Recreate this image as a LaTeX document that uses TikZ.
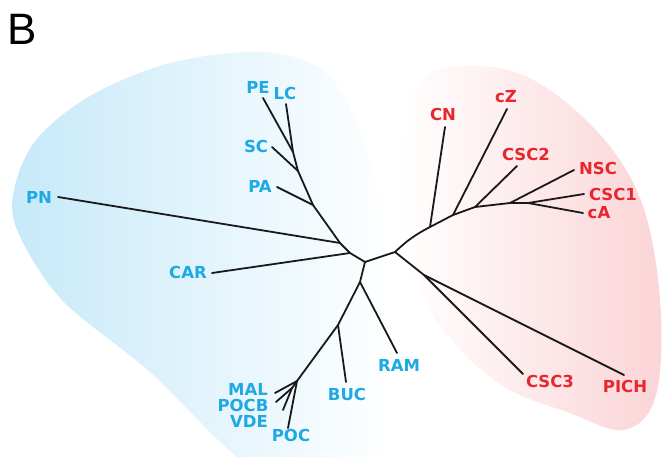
\documentclass[tikz,border=0pt]{standalone}
\usepackage{fontspec}
\setmainfont{DejaVu Sans}
\newfontfamily\letterfont{Liberation Sans}
\definecolor{blueblob}{RGB}{198,233,249}
\definecolor{redblob}{RGB}{251,212,214}
\definecolor{bluetxt}{RGB}{29,170,228}
\definecolor{redtxt}{RGB}{232,38,45}
\tikzset{
  branch/.style={line width=1.8pt, draw=black!90, line cap=round, line join=round},
  lab/.style={font=\fontsize{16.5}{16.5}\selectfont\bfseries, inner sep=0pt},
  bl/.style={lab, text=bluetxt},
  rl/.style={lab, text=redtxt}
}
\begin{document}
\begin{tikzpicture}[x=1pt,y=-1pt]
\useasboundingbox (0,0) rectangle (663,457);
% blobs
\shade[left color=blueblob, right color=white]
  plot[smooth cycle, tension=0.55] coordinates {(262,52) (325,72) (362,135) (385,230) (392,340) (372,490) (262,475) (150,372) (62,300) (18,232) (14,190) (36,140) (90,96) (170,63)};
\shade[left color=white, right color=redblob]
  plot[smooth cycle, tension=0.6] coordinates {(432,72) (515,72) (590,124) (640,198) (660,300) (656,395) (624,430) (567,412) (510,390) (463,353) (423,297) (402,220) (408,120)};
% letter
\node[anchor=base west, inner sep=0pt, font=\letterfont\fontsize{44}{44}\selectfont] (B) at (7,45) {B};
% coordinates
\coordinate (r) at (365,262);
\coordinate (j1) at (340,243);
\coordinate (j2) at (350,253);
\coordinate (jPA) at (313,205);
\coordinate (jSC) at (298,171);
\coordinate (jLC) at (293,152);
\coordinate (tPE) at (263,98);
\coordinate (tLC) at (286,104);
\coordinate (tSC) at (272,147);
\coordinate (tPA) at (277,187);
\coordinate (tPN) at (58,197);
\coordinate (tCAR) at (212,273);
\coordinate (jRAM) at (360,282);
\coordinate (tRAM) at (397,353);
\coordinate (jBUC) at (338,325);
\coordinate (tBUC) at (346,382);
\coordinate (jM) at (297,381);
\coordinate (jM2) at (292,388);
\coordinate (tMAL) at (275,393);
\coordinate (tPOCB) at (276,402);
\coordinate (tVDE) at (283,410);
\coordinate (tPOC) at (288,428);
\coordinate (jR) at (395,252);
\coordinate (jCN) at (430,227);
\coordinate (tCN) at (445,127);
\coordinate (jCZ) at (453,215);
\coordinate (tCZ) at (507,109);
\coordinate (jCSC2) at (475,207);
\coordinate (tCSC2) at (517,166);
\coordinate (jNSC) at (510,203);
\coordinate (tNSC) at (574,170);
\coordinate (jCA) at (528,203);
\coordinate (tCSC1) at (584,194);
\coordinate (tCA) at (583,213);
\coordinate (jP) at (424,275);
\coordinate (tCSC3) at (523,374);
\coordinate (tPICH) at (624,375);
% branches
\draw[branch] (tPE) -- (jLC) -- (jSC) -- (jPA) -- (j1) -- (j2) -- (r) -- (jR);
\draw[branch] (tLC) -- (jLC);
\draw[branch] (tSC) -- (jSC);
\draw[branch] (tPA) -- (jPA);
\draw[branch] (tPN) -- (j1);
\draw[branch] (tCAR) -- (j2);
\draw[branch] (r) -- (jRAM) -- (jBUC) -- (jM) -- (tMAL);
\draw[branch] (jRAM) -- (tRAM);
\draw[branch] (jBUC) -- (tBUC);
\draw[branch] (jM) -- (jM2) -- (tPOCB);
\draw[branch] (jM2) -- (tVDE);
\draw[branch] (jM) -- (tPOC);
\draw[branch] (jR) to[bend left=8] (jCN) -- (jCZ) -- (jCSC2) -- (jNSC) -- (jCA) -- (tCSC1);
\draw[branch] (jCN) -- (tCN);
\draw[branch] (jCZ) -- (tCZ);
\draw[branch] (jCSC2) -- (tCSC2);
\draw[branch] (jNSC) -- (tNSC);
\draw[branch] (jCA) -- (tCA);
\draw[branch] (jR) -- (jP) -- (tCSC3);
\draw[branch] (jP) -- (tPICH);
% labels
\node[bl] (PE) at (258,87) {PE};
\node[bl] (LC) at (285,93) {LC};
\node[bl] (SC) at (256,146) {SC};
\node[bl] (PA) at (260,186) {PA};
\node[bl] (PN) at (39,197) {PN};
\node[bl] (CAR) at (188,272) {CAR};
\node[bl] (MAL) at (248,389) {MAL};
\node[bl] (POCB) at (243,405) {POCB};
\node[bl] (VDE) at (249,421) {VDE};
\node[bl] (POC) at (291,435) {POC};
\node[bl] (BUC) at (347,394) {BUC};
\node[bl] (RAM) at (399,365) {RAM};
\node[rl] (CN) at (443,114) {CN};
\node[rl] (cZ) at (506,97) {cZ};
\node[rl] (CSC2) at (526,154) {CSC2};
\node[rl] (NSC) at (598,168) {NSC};
\node[rl] (CSC1) at (613,194) {CSC1};
\node[rl] (cA) at (599,213) {cA};
\node[rl] (CSC3) at (550,381) {CSC3};
\node[rl] (PICH) at (625,386) {PICH};
\end{tikzpicture}
\end{document}
